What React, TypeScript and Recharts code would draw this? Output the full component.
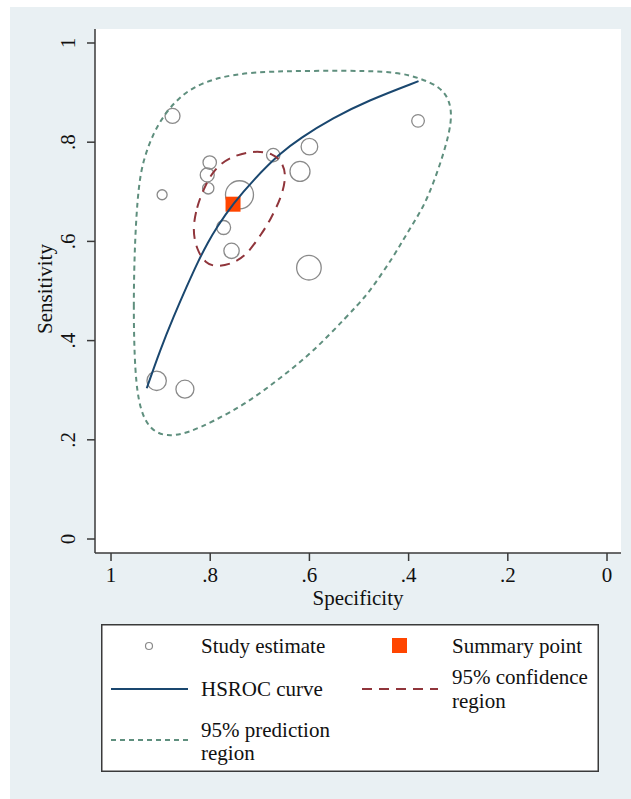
import { ScatterChart, Scatter, XAxis, YAxis, ZAxis, CartesianGrid, Legend } from 'recharts'

const FONT = '"Liberation Serif", "Times New Roman", serif'
const INK = '#111111'
const AXIS = '#3a3a3a'
const BG = '#e9f0f3'
const NAVY = '#1a476f'
const MAROON = '#90353b'
const GREEN = '#5f8f7e'
const ORANGE = '#ff4500'
const STUDY = '#8a8a8a'

// study estimates (circle area ~ study weight)
const studySpec = [0.876, 0.897, 0.801, 0.806, 0.804, 0.741, 0.773, 0.757, 0.673, 0.600, 0.619, 0.601, 0.381, 0.908, 0.851]
const studySens = [0.853, 0.694, 0.759, 0.734, 0.707, 0.694, 0.628, 0.581, 0.774, 0.791, 0.741, 0.547, 0.843, 0.319, 0.302]
const studyWeight = [56, 25, 45, 49, 32, 196, 49, 59, 45, 69, 100, 151, 40, 94, 81]

const summarySpec = [0.754]
const summarySens = [0.675]

const hsrocSpec = [0.928, 0.901, 0.874, 0.847, 0.824, 0.804, 0.788, 0.753, 0.713, 0.659, 0.619, 0.552, 0.484, 0.380]
const hsrocSens = [0.304, 0.381, 0.448, 0.510, 0.561, 0.599, 0.627, 0.677, 0.724, 0.778, 0.808, 0.849, 0.883, 0.923]

// closed contours, traced clockwise
const confSpec = [0.836, 0.827, 0.814, 0.794, 0.760, 0.713, 0.673, 0.653, 0.647, 0.656, 0.679, 0.696, 0.726, 0.753, 0.787, 0.810, 0.827]
const confSens = [0.623, 0.670, 0.704, 0.744, 0.771, 0.783, 0.778, 0.757, 0.730, 0.690, 0.643, 0.616, 0.573, 0.556, 0.548, 0.556, 0.583]

const predSpec = [0.952, 0.955, 0.952, 0.945, 0.935, 0.915, 0.891, 0.861, 0.821, 0.753, 0.669, 0.579, 0.484, 0.417, 0.377, 0.337, 0.317, 0.312, 0.327, 0.350, 0.370, 0.391, 0.411, 0.431, 0.458, 0.484, 0.525, 0.592, 0.659, 0.726, 0.794, 0.847, 0.888, 0.921, 0.942]
const predSens = [0.334, 0.468, 0.603, 0.710, 0.764, 0.818, 0.858, 0.892, 0.919, 0.938, 0.943, 0.944, 0.944, 0.940, 0.929, 0.912, 0.885, 0.845, 0.784, 0.717, 0.670, 0.636, 0.603, 0.569, 0.529, 0.492, 0.448, 0.378, 0.324, 0.274, 0.237, 0.213, 0.206, 0.220, 0.260]

const ticks = [0, 0.2, 0.4, 0.6, 0.8, 1]

const toPoints = (xs: number[], ys: number[], ws?: number[]) =>
  xs.map((x, i) => ({ spec: x, sens: ys[i], weight: ws ? ws[i] : 1 }))

const studies = toPoints(studySpec, studySens, studyWeight)
const summary = toPoints(summarySpec, summarySens)
const hsroc = toPoints(hsrocSpec, hsrocSens)
const conf = toPoints(confSpec, confSens)
const pred = toPoints(predSpec, predSens)

const fmt = (v: number) => (v === 0 ? '0' : v === 1 ? '1' : v.toFixed(1).replace(/^0/, ''))

const XTick = ({ x, y, payload }: any) => (
  <text x={x} y={y} dy={15} textAnchor="middle" fontFamily={FONT} fontSize={21} fill={INK}>
    {fmt(payload.value)}
  </text>
)

const YTick = ({ x, y, payload }: any) => (
  <text x={x} y={y} transform={`rotate(-90, ${x}, ${y})`} textAnchor="middle" fontFamily={FONT} fontSize={21} fill={INK}>
    {fmt(payload.value)}
  </text>
)

const NoDot = () => <g />

const SummaryMark = (p: any) => <rect x={p.cx - 7.5} y={p.cy - 7.5} width={15} height={15} fill={ORANGE} />

const txt = { fontFamily: FONT, fontSize: 21, fill: INK }

function LegendBox() {
  return (
    <svg width={498} height={148} style={{ display: 'block' }}>
      <rect x={0.75} y={0.75} width={496.5} height={146.5} fill="#fff" stroke={AXIS} strokeWidth={1.5} />
      <circle cx={48} cy={22} r={3.5} fill="none" stroke={STUDY} strokeWidth={1.2} />
      <text x={100} y={29} {...txt}>Study estimate</text>
      <rect x={291} y={14} width={15} height={15} fill={ORANGE} />
      <text x={351} y={29} {...txt}>Summary point</text>

      <line x1={10} x2={87} y1={65} y2={65} stroke={NAVY} strokeWidth={2} />
      <text x={100} y={71.5} {...txt}>HSROC curve</text>
      <line x1={261} x2={337} y1={65} y2={65} stroke={MAROON} strokeWidth={2} strokeDasharray="10 7" />
      <text x={351} y={60} {...txt}>
        <tspan x={351}>95% confidence</tspan>
        <tspan x={351} dy={23.5}>region</tspan>
      </text>

      <line x1={10} x2={87} y1={116} y2={116} stroke={GREEN} strokeWidth={2} strokeDasharray="5 4" />
      <text x={100} y={112.5} {...txt}>
        <tspan x={100}>95% prediction</tspan>
        <tspan x={100} dy={23.5}>region</tspan>
      </text>
    </svg>
  )
}

export default function App() {
  return (
    <div style={{ position: 'absolute', left: 0, top: 0, width: 631, height: 799, background: '#fff' }}>
      <div style={{ position: 'absolute', left: 10, top: 7, width: 621, height: 792, background: BG }} />
      <div style={{ position: 'absolute', left: 0, top: 0 }}>
        <ScatterChart width={631} height={799} margin={{ top: 29, right: 10, bottom: 206, left: 35 }}>
          <CartesianGrid fill="#fff" horizontal={false} vertical={false} stroke="none" />
          <XAxis
            type="number"
            dataKey="spec"
            domain={[-0.0282, 1.0323]}
            ticks={ticks}
            reversed
            allowDataOverflow
            height={40}
            tickSize={8}
            tickMargin={6}
            tick={<XTick />}
            axisLine={{ stroke: AXIS, strokeWidth: 1.5 }}
            tickLine={{ stroke: AXIS, strokeWidth: 1.5 }}
            label={(p: any) => (
              <text x={p.viewBox.x + p.viewBox.width / 2} y={p.viewBox.y + 52} textAnchor="middle" {...txt}>
                Specificity
              </text>
            )}
          />
          <YAxis
            type="number"
            dataKey="sens"
            domain={[-0.0282, 1.0282]}
            ticks={ticks}
            allowDataOverflow
            width={60}
            tickSize={8}
            tickMargin={12}
            tick={<YTick />}
            axisLine={{ stroke: AXIS, strokeWidth: 1.5 }}
            tickLine={{ stroke: AXIS, strokeWidth: 1.5 }}
            label={(p: any) => {
              const x = p.viewBox.x + 17
              const y = p.viewBox.y + p.viewBox.height / 2 - 2
              return (
                <text x={x} y={y} transform={`rotate(-90, ${x}, ${y})`} textAnchor="middle" {...txt}>
                  Sensitivity
                </text>
              )
            }}
          />
          <ZAxis zAxisId="w" type="number" dataKey="weight" domain={[0, 196]} range={[0, 616]} />

          <Scatter name="Study estimate" data={studies} zAxisId="w" shape="circle" fill="none" stroke={STUDY} strokeWidth={1.3} isAnimationActive={false} />
          <Scatter name="Summary point" data={summary} shape={SummaryMark} fill={ORANGE} isAnimationActive={false} />
          <Scatter name="HSROC curve" data={hsroc} shape={NoDot} fill="none" line={{ stroke: NAVY, strokeWidth: 2 }} lineJointType="basis" isAnimationActive={false} />
          <Scatter name="95% confidence region" data={conf} shape={NoDot} fill="none" line={{ stroke: MAROON, strokeWidth: 2, strokeDasharray: '10 7' }} lineJointType="basisClosed" isAnimationActive={false} />
          <Scatter name="95% prediction region" data={pred} shape={NoDot} fill="none" line={{ stroke: GREEN, strokeWidth: 2, strokeDasharray: '5 4' }} lineJointType="basisClosed" isAnimationActive={false} />

          <Legend
            layout="vertical"
            align="center"
            verticalAlign="middle"
            wrapperStyle={{ left: 101, top: 624, width: 498, height: 148 }}
            content={() => <LegendBox />}
          />
        </ScatterChart>
      </div>
    </div>
  )
}
